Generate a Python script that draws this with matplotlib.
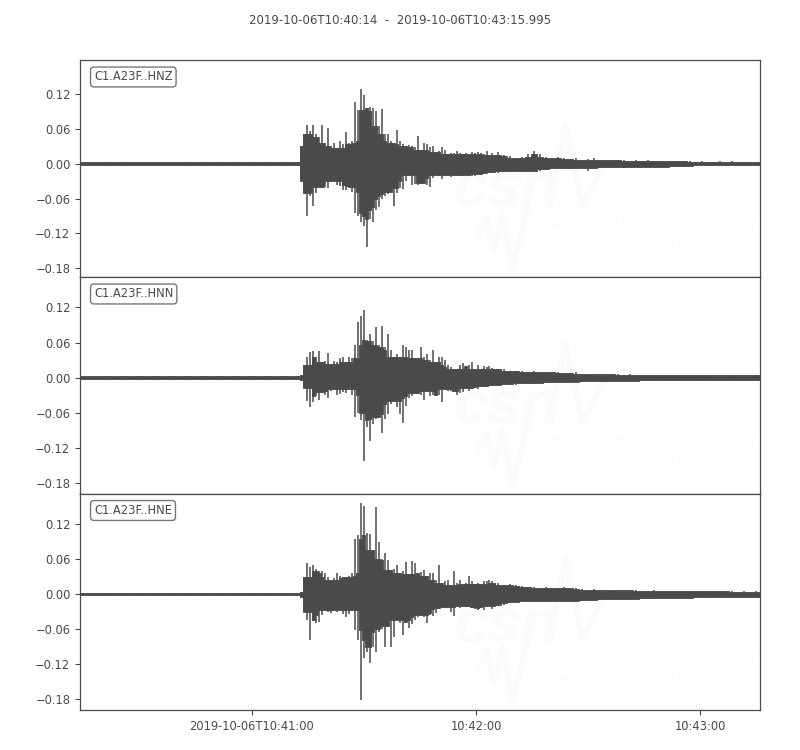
# -*- coding: utf-8 -*-
"""
Three component accelerogram, C1.A23F, 2019-10-06
Envelope values read off the picture, every trace is up/low per time step.
"""
import matplotlib
matplotlib.use("Agg")
import matplotlib.pyplot as plt
import numpy as np

title = "2019-10-06T10:40:14  -  2019-10-06T10:43:15.995"
channels = ["C1.A23F..HNZ", "C1.A23F..HNN", "C1.A23F..HNE"]
yticks = [-0.18, -0.12, -0.06, 0.00, 0.06, 0.12]
xticks = [46, 106, 166]  # seconds after 10:40:14
xticklabels = ["2019-10-06T10:41:00", "10:42:00", "10:43:00"]

# time steps: quiet part, strong part, coda
t_pre = np.linspace(0, 58.4, 15)
t_main = 59.2 + np.arange(64) * 0.8
t_tail = 110.4 + np.arange(46) * 1.6
t = np.concatenate([t_pre, t_main, t_tail])

z_pre_up = [.002, .002, .003, .003, .003, .003, .002, .002, .002, .002, .002, .002, .002, .002, .002]
z_pre_low = [-.002, -.002, -.002, -.003, -.002, -.002, -.002, -.002, -.002, -.002, -.002, -.002, -.002, -.002, -.002]
z_main_up = [.030, .050, .066, .056, .066, .050, .045, .066, .035, .062, .030, .036, .026, .038, .034, .054,
             .036, .038, .105, .092, .129, .118, .095, .097, .096, .090, .065, .094, .050, .050, .038, .036,
             .058, .038, .034, .030, .032, .030, .028, .048, .024, .035, .033, .028, .030, .020, .022, .029,
             .024, .016, .018, .018, .022, .018, .017, .018, .016, .020, .018, .020, .018, .016, .022, .014]
z_main_low = [-.030, -.050, -.090, -.055, -.073, -.050, -.040, -.042, -.040, -.042, -.030, -.030, -.036, -.038, -.045, -.046,
              -.040, -.048, -.085, -.090, -.100, -.107, -.143, -.095, -.100, -.079, -.075, -.060, -.055, -.052, -.048, -.073,
              -.050, -.042, -.044, -.030, -.020, -.036, -.035, -.036, -.034, -.034, -.036, -.040, -.024, -.020, -.022, -.026,
              -.020, -.022, -.023, -.020, -.022, -.022, -.021, -.020, -.022, -.022, -.021, -.018, -.020, -.018, -.018, -.016]
z_tail_up = [.018, .020, .015, .013, .010, .011, .016, .021, .016, .011, .010, .011, .009, .008, .009, .007,
             .008, .010, .007, .006, .007, .006, .006, .005, .006, .005, .006, .005, .005, .005, .005, .004,
             .004, .004, .003, .004, .003, .003, .004, .003, .004, .003, .003, .003, .003, .003]
z_tail_low = [-.014, -.016, -.012, -.014, -.012, -.013, -.012, -.013, -.013, -.010, -.009, -.008, -.008, -.009, -.008, -.008,
              -.013, -.010, -.007, -.006, -.006, -.006, -.007, -.006, -.005, -.005, -.005, -.005, -.005, -.005, -.005, -.004,
              -.005, -.004, -.004, -.003, -.004, -.003, -.003, -.004, -.003, -.003, -.003, -.003, -.003, -.003]

n_pre_up = [.002, .003, .002, .002, .002, .002, .002, .002, .002, .002, .002, .002, .002, .002, .002]
n_pre_low = [-.003, -.002, -.002, -.002, -.002, -.002, -.002, -.002, -.002, -.002, -.002, -.002, -.002, -.002, -.002]
n_main_up = [.004, .022, .035, .044, .046, .036, .046, .026, .028, .042, .024, .028, .027, .033, .036, .026,
             .036, .034, .056, .095, .105, .116, .065, .075, .062, .086, .055, .089, .052, .074, .048, .036,
             .040, .036, .056, .052, .048, .048, .034, .034, .052, .036, .040, .030, .048, .026, .036, .036,
             .030, .022, .018, .014, .014, .022, .025, .020, .022, .026, .014, .022, .014, .020, .018, .020]
n_main_low = [-.004, -.018, -.040, -.050, -.042, -.032, -.038, -.024, -.030, -.035, -.022, -.020, -.030, -.028, -.024, -.026,
              -.020, -.030, -.068, -.060, -.073, -.142, -.085, -.108, -.079, -.070, -.068, -.095, -.070, -.062, -.045, -.040,
              -.050, -.062, -.077, -.048, -.034, -.032, -.026, -.028, -.030, -.038, -.022, -.032, -.030, -.032, -.030, -.042,
              -.020, -.022, -.022, -.024, -.030, -.026, -.024, -.018, -.022, -.020, -.018, -.020, -.016, -.015, -.016, -.014]
n_tail_up = [.016, .014, .015, .012, .011, .012, .010, .011, .010, .009, .010, .009, .008, .008, .009, .007,
             .007, .006, .007, .006, .006, .006, .005, .006, .005, .005, .005, .005, .004, .005, .004, .004,
             .004, .005, .004, .004, .004, .005, .004, .004, .005, .004, .004, .004, .005, .007]
n_tail_low = [-.014, -.012, -.013, -.011, -.012, -.010, -.010, -.011, -.009, -.009, -.008, -.009, -.008, -.007, -.008, -.007,
              -.006, -.006, -.007, -.005, -.006, -.005, -.005, -.005, -.006, -.005, -.004, -.005, -.004, -.005, -.004, -.005,
              -.004, -.004, -.004, -.005, -.004, -.004, -.005, -.004, -.004, -.004, -.005, -.004, -.004, -.005]

e_pre_up = [.002, .002, .002, .002, .002, .002, .002, .002, .002, .002, .002, .002, .002, .002, .002]
e_pre_low = [-.002, -.002, -.002, -.002, -.002, -.002, -.002, -.002, -.002, -.002, -.002, -.002, -.002, -.002, -.002]
e_main_up = [.004, .030, .054, .046, .050, .044, .040, .040, .036, .030, .024, .028, .037, .032, .030, .030,
             .032, .036, .095, .102, .156, .152, .105, .104, .076, .150, .090, .060, .071, .058, .042, .044,
             .050, .036, .040, .056, .034, .057, .054, .036, .038, .042, .032, .036, .036, .024, .051, .020,
             .022, .024, .016, .039, .020, .024, .018, .020, .031, .022, .018, .020, .018, .022, .022, .024]
e_main_low = [-.004, -.030, -.045, -.079, -.045, -.050, -.048, -.035, -.028, -.030, -.032, -.028, -.030, -.028, -.034, -.040,
              -.034, -.028, -.061, -.078, -.182, -.110, -.100, -.118, -.090, -.100, -.065, -.060, -.090, -.055, -.090, -.073,
              -.045, -.050, -.070, -.048, -.058, -.052, -.045, -.040, -.035, -.040, -.050, -.035, -.038, -.032, -.025, -.024,
              -.024, -.022, -.030, -.037, -.022, -.024, -.020, -.022, -.022, -.024, -.026, -.028, -.024, -.028, -.022, -.020]
e_tail_up = [.023, .020, .016, .018, .015, .014, .013, .012, .011, .012, .011, .010, .012, .010, .010, .009,
             .008, .009, .008, .008, .008, .007, .007, .007, .007, .006, .006, .007, .006, .006, .006, .006,
             .005, .006, .005, .005, .006, .005, .005, .005, .005, .004, .005, .004, .005, .004]
e_tail_low = [-.026, -.020, -.018, -.015, -.014, -.013, -.012, -.012, -.012, -.011, -.013, -.012, -.011, -.011, -.012, -.011,
              -.010, -.010, -.010, -.009, -.009, -.009, -.008, -.008, -.008, -.008, -.007, -.008, -.007, -.007, -.006, -.006,
              -.007, -.006, -.006, -.005, -.006, -.005, -.005, -.006, -.005, -.005, -.005, -.005, -.005, -.005]

ups = [z_pre_up + z_main_up + z_tail_up, n_pre_up + n_main_up + n_tail_up, e_pre_up + e_main_up + e_tail_up]
lows = [z_pre_low + z_main_low + z_tail_low, n_pre_low + n_main_low + n_tail_low, e_pre_low + e_main_low + e_tail_low]
ylims = [(-0.194, 0.178), (-0.198, 0.172), (-0.199, 0.173)]

dark = "#4a4a4a"
faint = "#fbfbfb"
plt.rcParams["font.size"] = 8.3
plt.rcParams["text.color"] = dark
plt.rcParams["axes.edgecolor"] = dark
plt.rcParams["xtick.color"] = dark
plt.rcParams["ytick.color"] = dark

fig = plt.figure(figsize=(8, 7.5), dpi=100)
fig.text(0.5, 1 - 21 / 750, title, ha="center", va="center", fontsize=8.45)


def pos(px, py):
    # watermark, px offset from the top of the panel
    return (px - 80) / 680, 1 - py / 216.5


def core(v):
    # height of the solid band under the strokes, v is positive here
    out = []
    for i in range(len(v)):
        if i <= 15:
            out.append(v[i])
        elif i < 79:
            out.append(np.min(v[max(i - 2, 16):i + 3]))  # lowest of 5 steps
        else:
            out.append(np.min(v[i - 1:i + 2]))
    return np.array(out)


tops = [60, 277, 493.5]
for k in range(3):
    ax = fig.add_axes([80 / 800, 1 - (tops[k] + 216.5) / 750, 680 / 800, 216.5 / 750])
    up = np.array(ups[k])
    low = np.array(lows[k])

    off = [0, 1, 3][k]
    ax.text(*pos(453, 146 + off), "csn", transform=ax.transAxes, color=faint, fontsize=44,
            family="Liberation Sans", fontweight="bold", style="italic", va="baseline", zorder=0)
    ax.text(*pos(532, 168 + off), "CENTRO SISMOLÓGICO NACIONAL", transform=ax.transAxes, color=faint,
            fontsize=9.6, family="Liberation Sans", style="italic", va="baseline", zorder=0)
    ax.text(*pos(530, 188 + off), "UNIVERSIDAD DE CHILE", transform=ax.transAxes, color=faint,
            fontsize=9.6, family="Liberation Sans", style="italic", va="baseline", zorder=0)
    logo1 = [pos(550, 145), pos(565, 65), pos(582, 145), pos(603, 105)]
    logo2 = [pos(478, 175), pos(487, 157), pos(494, 190), pos(503, 153), pos(512, 210), pos(527, 148)]
    for logo in (logo1, logo2):
        xs, ys = zip(*logo)
        ax.plot(xs, ys, transform=ax.transAxes, color=faint, lw=4, zorder=0)

    # solid core, then one vertical stroke per time step
    ax.fill_between(t, -core(-low), core(up), step="mid", color=dark, lw=0.6, zorder=2)
    ax.vlines(t, low, up, color=dark, lw=1.1, zorder=2)

    ax.set_xlim(0, 182)
    ax.set_ylim(*ylims[k])
    ax.set_yticks(yticks)
    ax.set_yticklabels(["%.2f" % v if v >= 0 else "\u2212%.2f" % -v for v in yticks])
    if k == 2:
        ax.set_xticks(xticks)
        ax.set_xticklabels(xticklabels)
    else:
        ax.set_xticks([])
    for side in ax.spines:
        ax.spines[side].set_linewidth(0.9)
    ax.text(14 / 680, 1 - 17 / 216.5, channels[k], transform=ax.transAxes, va="center", ha="left",
            bbox=dict(boxstyle="round,pad=0.3", fc="white", ec="#777777", lw=1.0), zorder=5)

fig.savefig("out.png", dpi=100)
